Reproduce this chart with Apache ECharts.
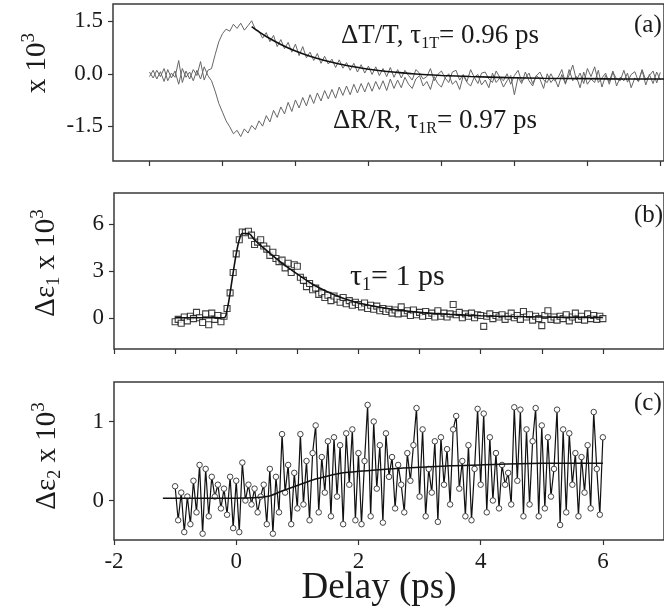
<!DOCTYPE html>
<html>
<head>
<meta charset="utf-8">
<script src="https://cdn.jsdelivr.net/npm/echarts/dist/echarts.min.js"></script>
<style>html,body{margin:0;padding:0;background:#fff;}#chart{width:664px;height:607px;}</style>
</head>
<body>
<div id="chart"></div>
<script>
// ---------- DATA ----------
const delays = [
  -1,-0.95,-0.9,-0.85,-0.8,-0.75,-0.7,-0.65,-0.6,-0.55,
  -0.5,-0.45,-0.4,-0.35,-0.3,-0.25,-0.2,-0.15,-0.1,-0.05,
  0,0.05,0.1,0.15,0.2,0.25,0.3,0.35,0.4,0.45,
  0.5,0.55,0.6,0.65,0.7,0.75,0.8,0.85,0.9,0.95,
  1,1.05,1.1,1.15,1.2,1.25,1.3,1.35,1.4,1.45,
  1.5,1.55,1.6,1.65,1.7,1.75,1.8,1.85,1.9,1.95,
  2,2.05,2.1,2.15,2.2,2.25,2.3,2.35,2.4,2.45,
  2.5,2.55,2.6,2.65,2.7,2.75,2.8,2.85,2.9,2.95,
  3,3.05,3.1,3.15,3.2,3.25,3.3,3.35,3.4,3.45,
  3.5,3.55,3.6,3.65,3.7,3.75,3.8,3.85,3.9,3.95,
  4,4.05,4.1,4.15,4.2,4.25,4.3,4.35,4.4,4.45,
  4.5,4.55,4.6,4.65,4.7,4.75,4.8,4.85,4.9,4.95,
  5,5.05,5.1,5.15,5.2,5.25,5.3,5.35,5.4,5.45,
  5.5,5.55,5.6,5.65,5.7,5.75,5.8,5.85,5.9,5.95,
  6
];
// panel (a): ΔT/T x 10^3
const dTT = [
  0.05,-0.12,0.10,-0.08,0.15,-0.20,0.02,-0.10,0.38,-0.25,
  0.08,-0.15,0.12,-0.05,0.35,-0.18,0.10,0.15,0.55,0.92,
  1.15,1.28,1.22,1.42,1.30,1.45,1.25,1.38,1.52,1.28,
  1.22,1.02,1.18,0.92,1.10,0.78,0.98,0.72,0.90,0.62,
  0.85,0.52,0.78,0.46,0.62,0.38,0.58,0.30,0.50,0.28,
  0.42,0.18,0.40,0.16,0.32,0.10,0.30,0.05,0.26,0.02,
  0.22,-0.02,0.20,-0.05,0.15,-0.08,0.18,-0.10,0.12,-0.12,
  0.10,-0.05,-0.18,0.12,0.02,-0.15,-0.08,0.15,-0.20,-0.02,
  0.08,-0.12,-0.25,0.05,0.10,-0.18,-0.02,-0.22,0.12,-0.10,
  -0.28,0.02,0.05,-0.15,-0.25,0.08,-0.10,-0.20,0.00,-0.30,
  -0.05,0.10,-0.22,-0.12,0.02,-0.28,-0.06,0.05,-0.18,-0.25,
  0.00,-0.20,-0.10,0.12,-0.26,-0.04,0.25,-0.18,0.02,-0.28,
  0.15,-0.08,0.20,-0.25,-0.12,0.02,-0.30,0.05,-0.15,-0.20,
  0.10,-0.24,-0.02,0.06,-0.22,0.12,-0.18,-0.05,0.08,-0.26,
  0.04
];
// panel (a): ΔR/R x 10^3
const dRR = [
  -0.08,0.10,-0.15,0.06,-0.22,0.12,-0.12,0.08,-0.30,0.15,
  -0.10,0.05,-0.20,0.10,-0.15,0.20,-0.05,-0.20,-0.50,-0.85,
  -1.10,-1.35,-1.52,-1.72,-1.62,-1.80,-1.58,-1.70,-1.48,-1.60,
  -1.35,-1.50,-1.20,-1.38,-1.05,-1.25,-0.95,-1.15,-0.82,-1.08,
  -0.75,-0.98,-0.68,-0.92,-0.60,-0.85,-0.55,-0.78,-0.48,-0.72,
  -0.45,-0.70,-0.38,-0.62,-0.35,-0.60,-0.30,-0.55,-0.28,-0.52,
  -0.25,-0.50,-0.22,-0.45,-0.20,-0.48,-0.15,-0.42,-0.18,-0.40,
  -0.10,-0.30,-0.42,-0.15,-0.05,-0.35,-0.22,-0.45,-0.08,-0.28,
  -0.38,-0.12,0.00,-0.30,-0.20,-0.45,-0.05,-0.25,-0.35,-0.10,
  -0.02,-0.32,-0.18,-0.40,0.02,-0.25,-0.12,-0.38,-0.20,-0.05,
  -0.60,-0.10,-0.28,0.05,-0.20,-0.35,-0.05,-0.15,-0.42,0.00,
  -0.25,-0.12,-0.38,-0.02,-0.30,0.12,-0.20,-0.08,-0.40,0.05,
  -0.30,-0.15,-0.25,0.10,-0.38,-0.05,-0.22,0.08,-0.35,-0.10,
  -0.20,0.02,-0.40,-0.12,-0.22,0.10,-0.32,-0.02,-0.28,0.05,
  -0.18
];
// panel (a): fit of ΔT/T (τ1T = 0.96 ps)
const fitTDelay = [0.4,0.5,0.6,0.8,1.0,1.2,1.4,1.6,1.8,2.0,2.2,2.4,2.6,2.8,3.0,3.4,3.9,4.4,5.0,5.5,6.05];
const fitTValue = [1.35,1.20,1.07,0.84,0.65,0.50,0.38,0.28,0.20,0.13,0.08,0.04,0.00,-0.03,-0.05,-0.08,-0.11,-0.13,-0.14,-0.15,-0.15];

// panel (b): Δε1 x 10^3
const eps1 = [
  -0.25,-0.10,-0.35,0.05,-0.20,0.10,-0.05,0.35,0.00,-0.30,
  0.25,-0.45,0.30,-0.10,0.15,-0.25,0.10,0.60,1.60,2.90,
  4.10,5.00,5.50,5.45,5.55,5.30,4.70,4.85,5.00,4.60,
  4.40,4.00,4.20,3.80,3.60,3.70,3.20,3.50,2.90,3.40,
  3.30,2.60,2.40,2.00,2.20,1.80,1.90,1.50,1.60,1.30,
  1.45,1.10,1.40,1.20,1.00,1.30,0.90,1.10,0.80,1.00,
  0.85,0.70,0.95,0.60,0.80,0.55,0.75,0.45,0.60,0.40,
  0.55,0.30,0.50,0.25,0.70,0.30,0.45,0.15,0.50,0.20,
  0.35,0.10,0.40,0.15,0.30,0.05,0.45,0.10,0.30,0.05,
  0.25,0.85,0.20,0.35,0.00,0.25,0.10,0.30,0.00,0.20,
  0.15,-0.55,0.10,0.25,-0.05,0.15,0.05,0.20,-0.10,0.10,
  0.30,0.00,0.15,-0.10,0.40,0.05,0.20,-0.15,0.10,-0.05,
  -0.50,0.15,0.45,-0.10,0.05,-0.15,0.10,-0.05,0.20,-0.20,
  0.05,0.30,-0.10,0.10,-0.15,0.25,-0.05,0.15,-0.10,0.10,
  -0.05
];
const fitBDelay = [-1.0,-0.2,-0.15,-0.1,-0.05,0,0.05,0.1,0.2,0.3,0.5,0.75,1,1.25,1.5,1.75,2,2.5,3,3.5,4,4.5,5,5.5,6];
const fitBValue = [0,0,0.5,1.6,2.9,4.1,5.0,5.4,5.4,5.0,4.3,3.5,2.8,2.15,1.65,1.25,0.95,0.58,0.35,0.22,0.13,0.08,0.05,0.03,0.02];

// panel (c): Δε2 x 10^3
const eps2 = [
  0.18,-0.25,0.10,-0.40,0.05,-0.30,0.25,-0.15,0.45,-0.42,
  0.40,-0.20,0.30,0.05,0.20,-0.10,0.15,-0.18,0.30,-0.35,
  0.25,-0.40,0.48,0.00,0.20,-0.05,0.15,-0.15,0.05,0.20,
  -0.30,0.40,-0.42,0.30,-0.15,0.84,0.10,0.45,-0.30,0.35,
  -0.10,0.84,-0.05,0.50,-0.25,0.60,0.95,-0.15,0.55,0.10,
  0.75,-0.20,0.80,0.05,0.70,-0.30,0.85,0.20,0.90,-0.25,
  0.60,-0.30,0.50,1.21,-0.20,1.00,0.15,0.70,-0.28,0.85,
  0.30,0.55,-0.10,0.45,0.20,-0.15,0.60,0.25,0.70,1.17,
  0.05,0.90,-0.20,0.40,0.10,0.75,-0.27,0.80,0.20,0.65,
  -0.05,0.90,1.07,0.15,0.50,-0.20,0.70,-0.25,0.40,1.16,
  0.20,1.10,-0.15,0.80,0.00,0.60,-0.10,0.45,0.20,0.35,
  -0.05,1.18,0.25,1.15,-0.20,0.90,-0.05,0.75,1.17,-0.20,
  0.95,-0.10,0.80,0.05,0.40,1.15,-0.31,0.90,-0.15,0.85,
  0.20,0.60,-0.20,0.55,0.10,0.70,-0.10,1.12,0.40,-0.18,
  0.80
];
const fitCDelay = [-1.2,0,0.5,0.75,1.0,1.25,1.5,1.75,2,2.5,3,3.5,4,5,6];
const fitCValue = [0.03,0.03,0.05,0.12,0.19,0.26,0.31,0.35,0.37,0.40,0.42,0.44,0.45,0.47,0.47];

// tick labels
const xTicksA = [-1,0,1,2,3,4,5,6];
const xTicksB = [-2,-1,0,1,2,3,4,5,6];
const xTicksC = [-2,0,2,4,6];
const yTicksA = [-1.5,0,1.5];
const yTicksB = [0,3,6];
const yTicksC = [0,1];

// ---------- CHART ----------
const FONT = 'Liberation Serif';
const INK = '#1a1a1a';
const zip = (xs, ys) => xs.map((x, i) => [x, ys[i]]);

const tickStyle = {color: '#333', width: 1.2};
function xAxis(grid, min, max, ticks, labels) {
  return {
    gridIndex: grid, type: 'value', min, max,
    axisLine: {show: false, onZero: false},
    axisTick: {show: true, inside: false, length: 5, customValues: ticks, lineStyle: tickStyle},
    axisLabel: labels ? {show: true, customValues: ticks, margin: 10, color: INK,
      fontFamily: FONT, fontSize: 23} : {show: false},
    splitLine: {show: false}
  };
}
function yAxis(grid, min, max, ticks, fmt) {
  return {
    gridIndex: grid, type: 'value', min, max,
    axisLine: {show: false, onZero: false},
    axisTick: {show: true, inside: false, length: 5, customValues: ticks, lineStyle: tickStyle},
    axisLabel: {show: true, customValues: ticks, margin: 10, color: INK,
      fontFamily: FONT, fontSize: 23, formatter: fmt},
    splitLine: {show: false}
  };
}
const gridBase = {show: true, borderColor: '#3a3a3a', borderWidth: 1.5, containLabel: false};

const richBase = {
  m: {fontFamily: FONT, fontSize: 27, lineHeight: 32, color: INK},
  s: {fontFamily: FONT, fontSize: 16, lineHeight: 15, verticalAlign: 'bottom', color: INK},
  L: {fontFamily: FONT, fontSize: 30, lineHeight: 35, color: INK},
  Ls: {fontFamily: FONT, fontSize: 18, lineHeight: 16, verticalAlign: 'bottom', color: INK},
  r: {fontFamily: FONT, fontSize: 25, lineHeight: 28, color: INK},
  t: {fontFamily: FONT, fontSize: 29, lineHeight: 34, color: INK},
  ts: {fontFamily: FONT, fontSize: 18, lineHeight: 17, verticalAlign: 'bottom', color: INK},
  tp: {fontFamily: FONT, fontSize: 19, lineHeight: 18, verticalAlign: 'top', color: INK}
};
function label(text, x, y, align, rot) {
  return {
    type: 'text', x, y, rotation: rot || 0, z: 100,
    style: {text, rich: richBase, align: align || 'left', verticalAlign: 'middle',
      fontFamily: FONT, fontSize: 25, fill: INK}
  };
}

const option = {
  animation: false,
  backgroundColor: '#fff',
  grid: [
    Object.assign({left: 113, right: -8, top: 4, height: 157}, gridBase),
    Object.assign({left: 114, right: -8, top: 193, height: 156}, gridBase),
    Object.assign({left: 114, right: -8, top: 382, height: 158}, gridBase)
  ],
  xAxis: [
    xAxis(0, -1.5, 6.05, xTicksA, false),
    xAxis(1, -2, 7, xTicksB, false),
    xAxis(2, -2, 7, xTicksC, true)
  ],
  yAxis: [
    yAxis(0, -2.5, 2.0, yTicksA, v => v.toFixed(1)),
    yAxis(1, -2, 8, yTicksB, v => String(v)),
    yAxis(2, -0.5, 1.5, yTicksC, v => String(v))
  ],
  series: [
    {name: 'ΔT/T', type: 'line', xAxisIndex: 0, yAxisIndex: 0, data: zip(delays, dTT),
      showSymbol: false, lineStyle: {color: '#666', width: 1}, z: 2},
    {name: 'ΔR/R', type: 'line', xAxisIndex: 0, yAxisIndex: 0, data: zip(delays, dRR),
      showSymbol: false, lineStyle: {color: '#666', width: 1}, z: 2},
    {name: 'fit T', type: 'line', xAxisIndex: 0, yAxisIndex: 0, data: zip(fitTDelay, fitTValue),
      showSymbol: false, smooth: 0.3, lineStyle: {color: '#111', width: 1.6}, z: 3},
    {name: 'Δε1', type: 'scatter', xAxisIndex: 1, yAxisIndex: 1, data: zip(delays, eps1),
      symbol: 'rect', symbolSize: 6,
      itemStyle: {color: '#fff', borderColor: '#111', borderWidth: 1.1}, z: 2},
    {name: 'fit b', type: 'line', xAxisIndex: 1, yAxisIndex: 1, data: zip(fitBDelay, fitBValue),
      showSymbol: false, smooth: 0.3, lineStyle: {color: '#111', width: 1.6}, z: 4},
    {name: 'Δε2', type: 'line', xAxisIndex: 2, yAxisIndex: 2, data: zip(delays, eps2),
      showSymbol: true, showAllSymbol: true, symbol: 'circle', symbolSize: 5.5,
      lineStyle: {color: '#111', width: 1.2},
      itemStyle: {color: '#fff', borderColor: '#444', borderWidth: 1}, z: 2},
    {name: 'fit c', type: 'line', xAxisIndex: 2, yAxisIndex: 2, data: zip(fitCDelay, fitCValue),
      showSymbol: false, smooth: 0.3, lineStyle: {color: '#111', width: 1.5}, z: 4}
  ],
  graphic: [
    label('{t|x 10}{tp|3}', 37, 63, 'center', Math.PI / 2),
    label('{t|Δε}{ts|1}{t| x 10}{tp|3}', 46, 263, 'center', Math.PI / 2),
    label('{t|Δε}{ts|2}{t| x 10}{tp|3}', 47, 456, 'center', Math.PI / 2),
    label('{m|ΔT/T, τ}{s|1T}{m|= 0.96 ps}', 341, 36, 'left'),
    label('{m|ΔR/R, τ}{s|1R}{m|= 0.97 ps}', 333, 121, 'left'),
    label('{L|τ}{Ls|1}{L|= 1 ps}', 350, 277, 'left'),
    label('{r|(a)}', 634, 25, 'left'),
    label('{r|(b)}', 634, 215, 'left'),
    label('{r|(c)}', 634, 403, 'left'),
    {type: 'text', x: 379, y: 588, z: 100,
      style: {text: 'Delay (ps)', align: 'center', verticalAlign: 'middle',
        fontFamily: FONT, fontSize: 37, fill: INK}}
  ]
};
const chart = echarts.init(document.getElementById('chart'), null, {renderer: 'canvas'});
chart.setOption(option);
</script>
</body>
</html>
